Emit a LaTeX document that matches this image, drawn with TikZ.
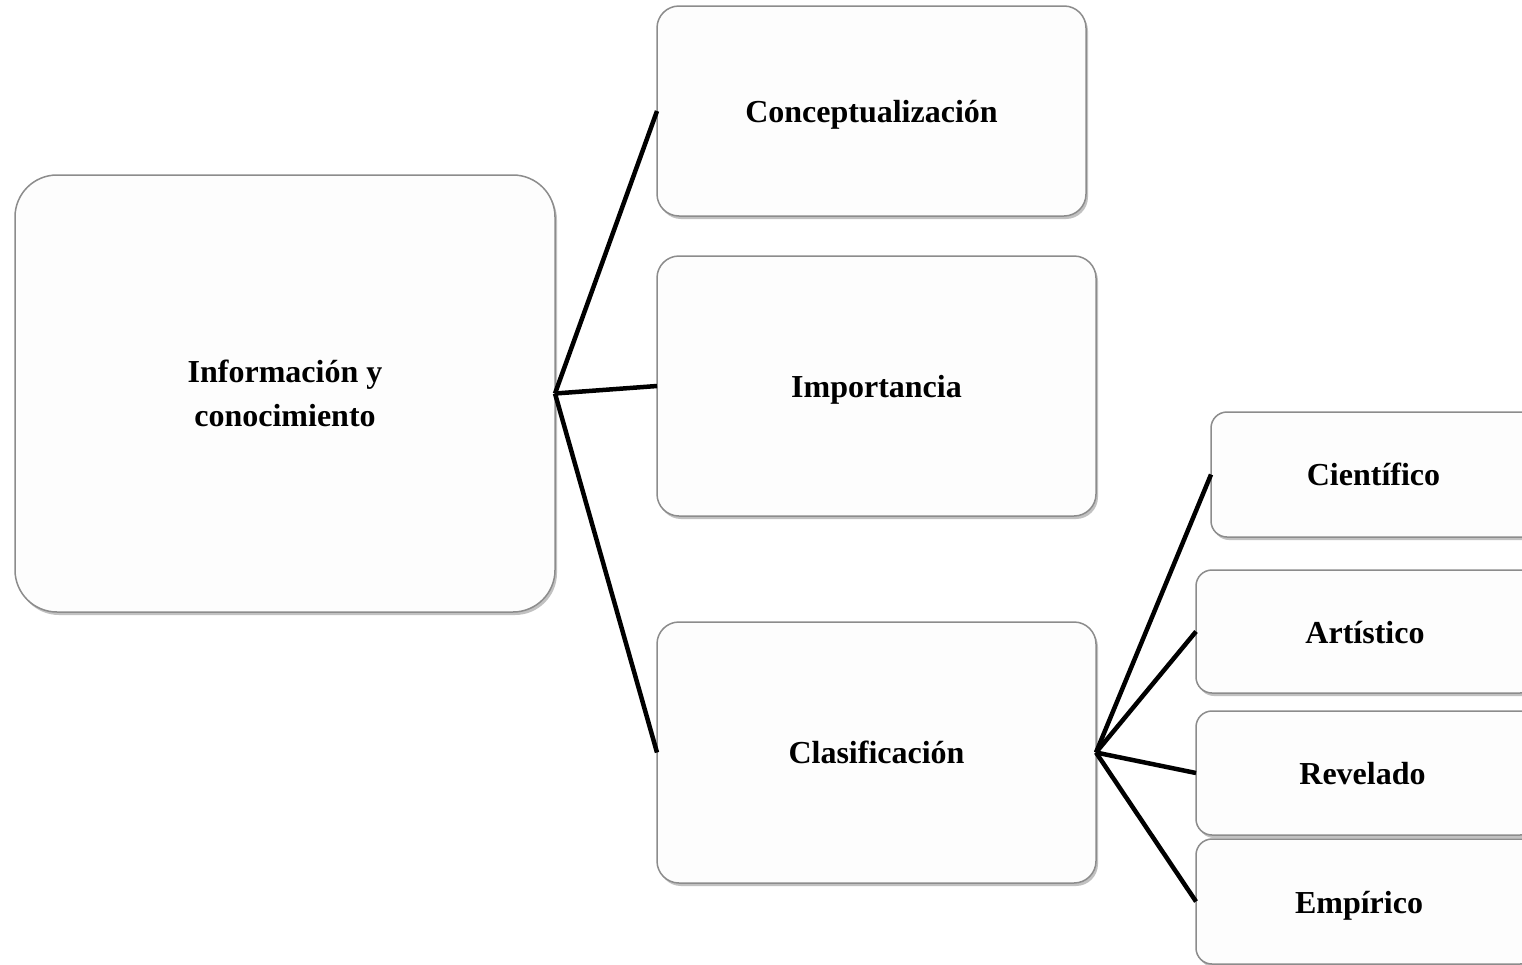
\documentclass[tikz,border=0pt]{standalone}
\usepackage{fontspec}
\setmainfont{Liberation Serif}
\usetikzlibrary{shadows}
\tikzset{
  box/.style={draw=black!45, line width=1.5pt, fill=white!99.4!black, rectangle,
    rounded corners=#1, inner sep=0pt, outer sep=0pt, align=center,
    font=\fontsize{32}{44.5}\selectfont\bfseries,
    drop shadow={shadow xshift=2pt, shadow yshift=-3pt, opacity=0.4, fill=black!60}},
  box/.default=22pt,
  tb/.style={text height=#1, text depth=4pt},
  link/.style={line width=4.5pt, black}
}
\newcommand{\shiftx}[2]{\hspace*{#1}#2\hspace*{-#1}}
\begin{document}
\begin{tikzpicture}[x=1pt,y=-1pt]
\path[use as bounding box, clip] (0,0) rectangle (1522,964);
\fill[white] (0,0) rectangle (1522,964);
% main boxes
\node[box=42pt, minimum width=540pt, minimum height=437pt] (info) at (285,393.5) {Información y\\conocimiento};
\node[box, tb=26pt, minimum width=429pt, minimum height=210pt] (conc) at (871.5,111) {Conceptualización};
\node[box, tb=26pt, minimum width=439pt, minimum height=260pt] (imp) at (876.5,386) {Importancia};
\node[box, tb=26pt, minimum width=439pt, minimum height=261pt] (clas) at (876.5,752.5) {Clasificación};
% sub boxes
\node[box=16pt, tb=25pt, minimum width=330pt, minimum height=125pt] (cien) at (1376,474.5) {\shiftx{-2.5pt}{Científico}};
\node[box=16pt, tb=28pt, minimum width=340pt, minimum height=123pt] (art) at (1366,631.5) {\shiftx{-1pt}{Artístico}};
\node[box=16pt, tb=26pt, minimum width=340pt, minimum height=124pt] (rev) at (1366,773) {\shiftx{-3.5pt}{Revelado}};
\node[box=16pt, tb=28pt, minimum width=340pt, minimum height=125pt] (emp) at (1366,901.5) {\shiftx{-7pt}{Empírico}};
% connectors
\draw[link] (info.east) -- (conc.west);
\draw[link] (info.east) -- (imp.west);
\draw[link] (info.east) -- (clas.west);
\draw[link] (clas.east) -- (cien.west);
\draw[link] (clas.east) -- (art.west);
\draw[link] (clas.east) -- (rev.west);
\draw[link] (clas.east) -- (emp.west);
\end{tikzpicture}
\end{document}
